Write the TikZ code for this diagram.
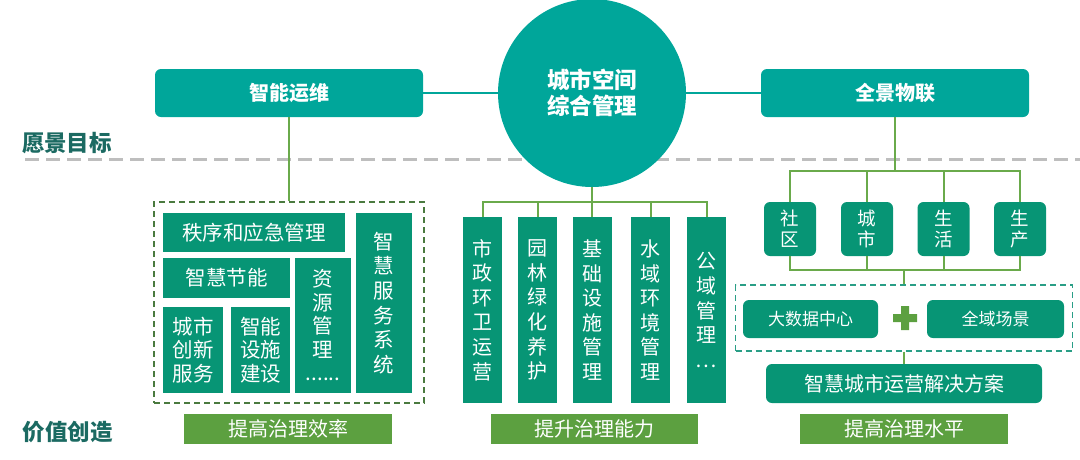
\documentclass[tikz,border=0pt]{standalone}
\usepackage{fontspec}
\setmainfont{Noto Sans CJK SC}
\usetikzlibrary{positioning}
\definecolor{Teal}{HTML}{00A69A}
\definecolor{Leaf}{HTML}{079575}
\definecolor{Grass}{HTML}{5CA040}
\definecolor{Stem}{HTML}{6AAA4B}
\definecolor{Moss}{HTML}{4A7A3F}
\definecolor{Lagoon}{HTML}{2A9E86}
\definecolor{Ink}{HTML}{1B6A62}
\definecolor{Rule}{HTML}{BEBEBE}
\tikzset{
  top box/.style={fill=Teal,rounded corners=6pt,minimum width=268pt,minimum height=48pt,
    inner sep=0pt,text=white,font=\fontsize{20}{22}\selectfont\bfseries},
  hub circle/.style={circle,fill=Teal,minimum size=188pt,inner sep=0pt,align=center,
    text=white,font=\fontsize{22.5}{26}\selectfont\bfseries},
  cell box/.style={fill=Leaf,inner sep=0pt,align=center,text=white,
    font=\fontsize{20.5}{23.5}\selectfont},
  col box/.style={cell box,minimum width=39pt,minimum height=186pt,
    font=\fontsize{20}{24.6}\selectfont},
  tag box/.style={cell box,rounded corners=6pt},
  value bar/.style={fill=Grass,minimum width=208pt,minimum height=30pt,inner sep=0pt,
    text=white,font=\fontsize{20}{22}\selectfont},
  group frame/.style={line width=2pt,dash pattern=on 6pt off 4pt,inner sep=0pt},
  link line/.style={draw=Teal,line width=2pt},
  fork line/.style={draw=Stem,line width=2pt},
  side label/.style={text=Ink,font=\fontsize{22.5}{26}\selectfont\bfseries}
}
\begin{document}
\begin{tikzpicture}[x=1pt,y=-1pt]
  \useasboundingbox (0,0) rectangle (1080,459);
  \draw[draw=Rule,line width=3pt,dash pattern=on 14pt off 7pt] (25,159) -- (1080,159);
  \node[side label] (vision) at (67,143) {愿景目标};
  \node[side label] (value) at (68,432) {价值创造};

  \node[top box] (yunwei) at (289,93) {智能运维};
  \node[hub circle] (hub) at (592,93) {城市空间\\综合管理};
  \node[top box] (quanjing) at (895,93) {全景物联};
  \draw[link line] (yunwei) -- (hub);
  \draw[link line] (hub) -- (quanjing);

  \node[group frame,draw=Moss,minimum width=270pt,minimum height=201pt] (leftgrp) at (289,302.5) {};
  \node[cell box,minimum width=182pt,minimum height=39pt] (zhixu) at (254,232.5) {秩序和应急管理};
  \node[cell box,minimum width=56pt,minimum height=180pt,font=\fontsize{20.5}{24.6}\selectfont] (fuwu) at (384,303) {智\\慧\\服\\务\\系\\统};
  \node[cell box,minimum width=127pt,minimum height=40pt] (jieneng) at (226.5,278) {智慧节能};
  \node[cell box,minimum width=56pt,minimum height=135pt] (ziyuan) at (323,325.5) {资\\源\\管\\理\\......};
  \node[cell box,minimum width=60pt,minimum height=86pt] (chuangxin) at (193,350) {城市\\创新\\服务};
  \node[cell box,minimum width=59pt,minimum height=86pt] (sheshi) at (260.5,350) {智能\\设施\\建设};
  \node[value bar] (xiaolv) at (288,429) {提高治理效率};
  \draw[fork line] (yunwei) -- (leftgrp);

  \node[col box] (huanwei) at (482.5,310) {市\\政\\环\\卫\\运\\营};
  \node[col box] (yuanlin) at (537.5,310) {园\\林\\绿\\化\\养\\护};
  \node[col box] (jichu) at (592,310) {基\\础\\设\\施\\管\\理};
  \node[col box] (shuiyu) at (650.5,310) {水\\域\\环\\境\\管\\理};
  \node[col box] (gongyu) at (706.5,310) {公\\域\\管\\理\\…};
  \node[value bar,minimum width=207pt] (nengli) at (594.5,429) {提升治理能力};
  \coordinate (midfork) at (592,202);
  \draw[fork line] (hub) -- (midfork);
  \foreach \c in {huanwei,yuanlin,jichu,shuiyu,gongyu}
    \draw[fork line] (midfork) -| (\c.north);

  \node[tag box,minimum width=52pt,minimum height=54pt,font=\fontsize{18.5}{21}\selectfont] (shequ) at (790,229) {社\\区};
  \node[tag box,minimum width=52pt,minimum height=54pt,font=\fontsize{18.5}{21}\selectfont] (chengshi) at (867,229) {城\\市};
  \node[tag box,minimum width=52pt,minimum height=54pt,font=\fontsize{18.5}{21}\selectfont] (shenghuo) at (943.5,229) {生\\活};
  \node[tag box,minimum width=52pt,minimum height=54pt,font=\fontsize{18.5}{21}\selectfont] (shengchan) at (1020,229) {生\\产};
  \coordinate (rfork) at (895,171);
  \coordinate (rjoin) at (904,270);
  \draw[fork line] (quanjing) -- (rfork);
  \foreach \t in {shequ,chengshi,shenghuo,shengchan} {
    \draw[fork line] (rfork) -| (\t.north);
    \draw[fork line] (\t.south) |- (rjoin);
  }
  \node[group frame,draw=Lagoon,line width=1.6pt,minimum width=337pt,minimum height=66pt] (datagrp) at (904,318) {};
  \node[tag box,minimum width=135pt,minimum height=38pt,font=\fontsize{17}{20}\selectfont] (dashuju) at (810.5,319) {大数据中心};
  \node[tag box,minimum width=137pt,minimum height=38pt,font=\fontsize{17}{20}\selectfont] (quanyu) at (995.5,319) {全域场景};
  \fill[Grass] (893,314) rectangle (917,322) (901,306) rectangle (909,330);
  \node[tag box,minimum width=276pt,minimum height=39pt,font=\fontsize{20}{23}\selectfont] (jiejue) at (904,383.5) {智慧城市运营解决方案};
  \node[value bar] (shuiping) at (904,429) {提高治理水平};
  \draw[fork line] (rjoin) -- (datagrp);
  \draw[fork line] (datagrp) -- (jiejue);
\end{tikzpicture}
\end{document}
